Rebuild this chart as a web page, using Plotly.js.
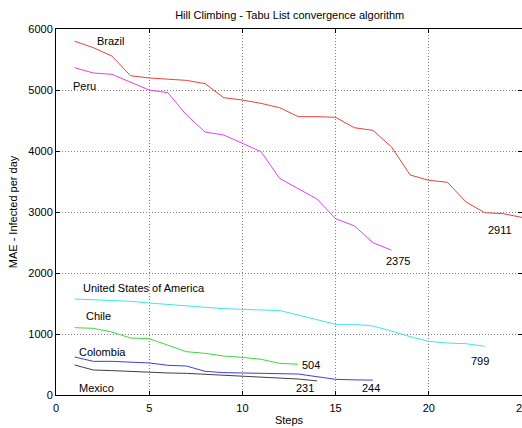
<!DOCTYPE html>
<html>
<head>
<meta charset="utf-8">
<script src="https://cdn.plot.ly/plotly-3.0.1.min.js"></script>
<style>html,body{margin:0;padding:0;background:#fff;}#chart{width:522px;height:428px;}</style>
</head>
<body>
<div id="chart"></div>
<script>
const countries = ["Brazil", "Peru", "United States of America", "Chile", "Colombia", "Mexico"];
const brazil = [5800,5694,5557,5234,5197,5180,5158,5104,4874,4836,4781,4710,4563,4563,4552,4382,4339,4066,3607,3520,3487,3164,2989,2972,2911];
const peru = [5366,5279,5257,5126,5000,4956,4590,4311,4262,4126,3989,3550,3377,3213,2890,2775,2497,2375];
const usa = [1574,1563,1557,1536,1508,1486,1453,1437,1415,1404,1399,1385,1311,1230,1159,1159,1131,1049,956,880,852,841,799];
const chile = [1104,1093,1033,934,923,820,710,683,639,617,585,519,504];
const colombia = [623,552,552,535,525,487,475,388,366,361,355,344,344,300,257,248,244];
const mexico = [492,410,400,383,372,361,355,339,317,301,290,268,262,231];
const seriesValues = [brazil, peru, usa, chile, colombia, mexico];
const xTicks = [0,5,10,15,20,25];
const yTicks = [0,1000,2000,3000,4000,5000,6000];

const colors = ["#e8413c", "#e63ef0", "#3ee8e8", "#3ed83e", "#3e3ee0", "#404040"];
const namePos = [[2.95,5808],[1.55,5070],[4.73,1749],[2.27,1300],[2.48,710],[2.18,120]];
const valuePos = [[23.8,2705],[18.35,2192],[22.75,557],[13.7,492],[16.9,120],[13.37,120]];

const traces = seriesValues.map((vals, i) => ({
  x: vals.map((_, k) => k + 1),
  y: vals,
  type: "scatter",
  mode: "lines",
  name: countries[i],
  line: {color: colors[i], width: 1},
  hoverinfo: "x+y+name"
}));

const fam = "Liberation Sans, Arial, sans-serif";
const annFont = {family: fam, size: 11, color: "#000"};
const annotations = [];
countries.forEach((c, i) => {
  annotations.push({x: namePos[i][0], y: namePos[i][1], xref: "x", yref: "y", text: c, showarrow: false, font: annFont});
  const v = seriesValues[i];
  annotations.push({x: valuePos[i][0], y: valuePos[i][1], xref: "x", yref: "y", text: String(v[v.length - 1]), showarrow: false, font: annFont});
});

const axisCommon = {
  showline: true, linecolor: "#000", linewidth: 1, mirror: "ticks",
  ticks: "inside", ticklen: 4, tickcolor: "#000",
  showgrid: true, gridcolor: "#808080", griddash: "1px,2px", gridwidth: 1,
  zeroline: false, ticklabeloverflow: "allow",
  tickfont: {family: fam, size: 11, color: "#000"}
};

const layout = {
  width: 522, height: 428,
  margin: {l: 56, r: 0, t: 29, b: 33},
  paper_bgcolor: "#fff", plot_bgcolor: "#fff",
  showlegend: false,
  title: {text: "Hill Climbing - Tabu List convergence algorithm", font: {family: fam, size: 11, color: "#000"}, x: 0.555, xanchor: "center", y: 0.965, yanchor: "middle"},
  xaxis: Object.assign({}, axisCommon, {range: [0, 25], tickvals: xTicks, ticklabelstandoff: 3, title: {text: "Steps", font: {family: fam, size: 11, color: "#000"}, standoff: 3}}),
  yaxis: Object.assign({}, axisCommon, {range: [0, 6000], tickvals: yTicks, title: {text: "MAE - Infected per day", font: {family: fam, size: 11, color: "#000"}, standoff: 8}}),
  annotations: annotations
};

Plotly.newPlot("chart", traces, layout, {displayModeBar: false, staticPlot: true});
</script>
</body>
</html>
